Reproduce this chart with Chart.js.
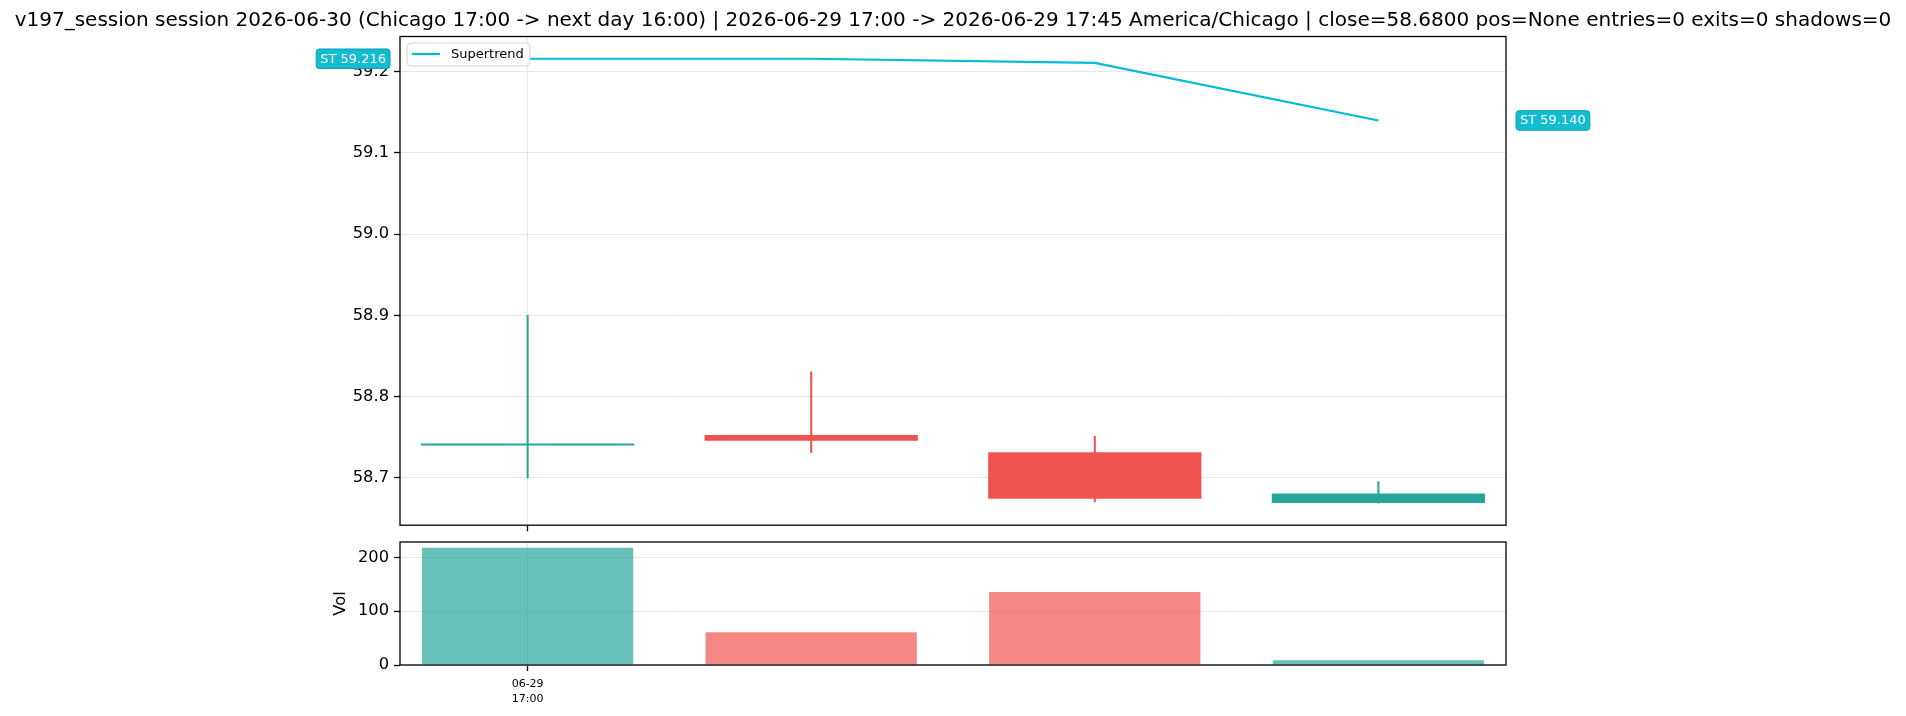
<!DOCTYPE html>
<html><head><meta charset="utf-8">
<script src="https://cdn.jsdelivr.net/npm/chart.js@4.4.0/dist/chart.umd.min.js"></script>
<style>
html,body{margin:0;padding:0;background:#fff;width:1906px;height:716px;overflow:hidden}
canvas{position:absolute;left:0}
#main{top:0}
#vol{top:510px}
</style></head><body>
<canvas id="main" width="1906" height="540"></canvas>
<canvas id="vol" width="1906" height="206"></canvas>
<script>
// ---- data ----
const titleText = 'v197_session session 2026-06-30 (Chicago 17:00 -> next day 16:00) | 2026-06-29 17:00 -> 2026-06-29 17:45 America/Chicago | close=58.6800 pos=None entries=0 exits=0 shadows=0';
const barIndex = [0, 1, 2, 3];
const xTickValues = [0];
const xTickLabels = [['06-29', '17:00']];
const opens  = [58.740, 58.7527, 58.7315, 58.669];
const highs  = [58.900, 58.8305, 58.7512, 58.6955];
const lows   = [58.700, 58.7310, 58.6705, 58.669];
const closes = [58.740, 58.7457, 58.6742, 58.6807];
const volumes = [218, 61, 136, 9];
const supertrend = [59.216, 59.216, 59.211, 59.140];
const priceTicks = [58.7, 58.8, 58.9, 59.0, 59.1, 59.2];
const volTicks = [0, 100, 200];

// ---- styles ----
const UP = '#26a69a', DOWN = '#ef5350';
const UP_A = 'rgba(38,166,154,0.7)', DOWN_A = 'rgba(239,83,80,0.7)';
const ST_COLOR = '#00bcd4';
const GRID = '#e7e7e7';
const FONT = 'DejaVu Sans';
Chart.defaults.font.family = FONT;
Chart.defaults.color = '#000';
Chart.defaults.animation = false;

const isUp = barIndex.map(i => closes[i] >= opens[i]);
const candleColors = isUp.map(u => u ? UP : DOWN);
const volColors = isUp.map(u => u ? UP_A : DOWN_A);

const yMin = 58.6417, yMax = 59.2434;
const volMax = 228.9;

const framePlugin = {
  id: 'frame',
  afterDraw(chart) {
    const a = chart.chartArea, ctx = chart.ctx;
    ctx.save();
    ctx.strokeStyle = '#000';
    ctx.lineWidth = 1.3;
    ctx.strokeRect(a.left, a.top, a.right - a.left, a.bottom - a.top);
    ctx.restore();
  }
};

function roundRect(ctx, x, y, w, h, r) {
  ctx.beginPath();
  ctx.moveTo(x + r, y);
  ctx.lineTo(x + w - r, y);
  ctx.quadraticCurveTo(x + w, y, x + w, y + r);
  ctx.lineTo(x + w, y + h - r);
  ctx.quadraticCurveTo(x + w, y + h, x + w - r, y + h);
  ctx.lineTo(x + r, y + h);
  ctx.quadraticCurveTo(x, y + h, x, y + h - r);
  ctx.lineTo(x, y + r);
  ctx.quadraticCurveTo(x, y, x + r, y);
  ctx.closePath();
}

function stLabel(ctx, text, x, y, anchorRight) {
  ctx.save();
  ctx.font = '13px "' + FONT + '"';
  const w = ctx.measureText(text).width + 8, h = 19.5;
  const x0 = anchorRight ? x - w : x;
  roundRect(ctx, x0, y - h / 2, w, h, 3);
  ctx.fillStyle = '#13bdd1';
  ctx.fill();
  ctx.strokeStyle = '#0a9db2';
  ctx.lineWidth = 1;
  ctx.stroke();
  ctx.fillStyle = '#fff';
  ctx.textAlign = 'center';
  ctx.textBaseline = 'middle';
  ctx.fillText(text, x0 + w / 2, y + 0.5);
  ctx.restore();
}

const decorPlugin = {
  id: 'decor',
  afterDraw(chart) {
    const ctx = chart.ctx, a = chart.chartArea, ys = chart.scales.y;
    // title
    ctx.save();
    ctx.font = '20px "' + FONT + '"';
    ctx.fillStyle = '#000';
    ctx.textAlign = 'center';
    ctx.textBaseline = 'middle';
    ctx.fillText(titleText, chart.width / 2, 21);
    ctx.restore();
    // legend
    ctx.save();
    const lx = a.left + 7, ly = a.top + 6.5, lw = 123, lh = 23;
    roundRect(ctx, lx, ly, lw, lh, 4);
    ctx.fillStyle = 'rgba(255,255,255,0.8)';
    ctx.fill();
    ctx.strokeStyle = '#d5d5d5';
    ctx.lineWidth = 1;
    ctx.stroke();
    ctx.strokeStyle = ST_COLOR;
    ctx.lineWidth = 2.2;
    ctx.beginPath();
    ctx.moveTo(lx + 5, ly + 11);
    ctx.lineTo(lx + 33, ly + 11);
    ctx.stroke();
    ctx.font = '13px "' + FONT + '"';
    ctx.fillStyle = '#000';
    ctx.textBaseline = 'middle';
    ctx.fillText(chart.data.datasets[0].label, lx + 44, ly + 12);
    ctx.restore();
    // ST value labels
    const first = supertrend[0], last = supertrend[supertrend.length - 1];
    stLabel(ctx, 'ST ' + first.toFixed(3), a.left - 10, ys.getPixelForValue(first), true);
    stLabel(ctx, 'ST ' + last.toFixed(3), a.right + 10, ys.getPixelForValue(last), false);
  }
};

const xCommon = (showLabels, height) => ({
  type: 'linear',
  min: -0.45, max: 3.45,
  offset: false,
  afterBuildTicks: s => { s.ticks = xTickValues.map(v => ({ value: v })); },
  afterFit: s => { s.height = height; },
  grid: { color: GRID, lineWidth: 1, tickColor: '#000', tickLength: 6, tickWidth: 1.3, offset: false, drawOnChartArea: true },
  border: { display: false },
  ticks: {
    autoSkip: false, maxRotation: 0, minRotation: 0, padding: 6,
    font: { size: 11, lineHeight: 1.35 },
    callback: (v, i) => showLabels ? xTickLabels[i] : ''
  }
});

new Chart(document.getElementById('main'), {
  type: 'bar',
  data: {
    datasets: [
      {
        type: 'line', label: 'Supertrend', order: 0,
        data: barIndex.map(i => ({ x: i, y: supertrend[i] })),
        borderColor: ST_COLOR, borderWidth: 2.2, pointRadius: 0, tension: 0, fill: false
      },
      {
        label: 'body', order: 1, grouped: false,
        data: barIndex.map(i => ({ x: i, y: [opens[i], closes[i]] })),
        backgroundColor: candleColors, borderWidth: 0,
        barPercentage: 0.752, categoryPercentage: 1, minBarLength: 2
      },
      {
        label: 'wick', order: 2, grouped: false,
        data: barIndex.map(i => ({ x: i, y: [lows[i], highs[i]] })),
        backgroundColor: candleColors, borderWidth: 0,
        barThickness: 1.4
      }
    ]
  },
  options: {
    responsive: false, devicePixelRatio: 1, animation: false,
    layout: { padding: { left: 0, right: 400, top: 36.5, bottom: 0 } },
    plugins: { legend: { display: false }, tooltip: { enabled: false }, title: { display: false } },
    scales: {
      x: xCommon(false, 14),
      y: {
        type: 'linear', min: yMin, max: yMax,
        afterBuildTicks: s => { s.ticks = priceTicks.map(v => ({ value: v })); },
        afterFit: s => { s.width = 400; },
        grid: { color: GRID, lineWidth: 1, tickColor: '#000', tickLength: 6, tickWidth: 1.3 },
        border: { display: false },
        ticks: { font: { size: 16.3 }, padding: 5, callback: v => Number(v).toFixed(1) }
      }
    }
  },
  plugins: [framePlugin, decorPlugin]
});

new Chart(document.getElementById('vol'), {
  type: 'bar',
  data: {
    datasets: [{
      label: 'Vol', grouped: false,
      data: barIndex.map(i => ({ x: i, y: volumes[i] })),
      backgroundColor: volColors, borderWidth: 0,
      barPercentage: 0.745, categoryPercentage: 1
    }]
  },
  options: {
    responsive: false, devicePixelRatio: 1, animation: false,
    layout: { padding: { left: 331, right: 400, top: 32, bottom: 0 } },
    plugins: { legend: { display: false }, tooltip: { enabled: false } },
    scales: {
      x: xCommon(true, 51),
      y: {
        type: 'linear', min: 0, max: volMax,
        afterBuildTicks: s => { s.ticks = volTicks.map(v => ({ value: v })); },
        afterFit: s => { s.width = 400 - 331; },
        grid: { color: GRID, lineWidth: 1, tickColor: '#000', tickLength: 6, tickWidth: 1.3 },
        border: { display: false },
        title: { display: true, text: 'Vol', font: { size: 16.3 }, padding: 0, color: '#000' },
        ticks: { font: { size: 16.3 }, padding: 5, callback: v => String(v) }
      }
    }
  },
  plugins: [framePlugin]
});
</script>
</body></html>
